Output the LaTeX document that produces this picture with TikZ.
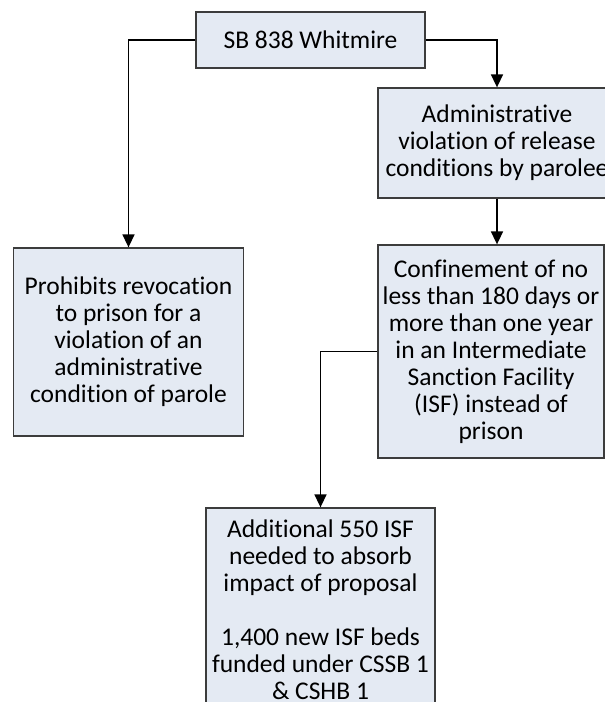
\documentclass[tikz,border=0pt]{standalone}
\usepackage{fontspec}
\setmainfont{Carlito}[Ligatures=NoCommon]
\usetikzlibrary{arrows.meta}
\definecolor{boxfill}{HTML}{E4EAF3}
\definecolor{boxline}{HTML}{3C3C3C}
\begin{document}
\begin{tikzpicture}[x=1pt,y=-1pt,
  box/.style={draw=boxline,fill=boxfill,line width=1.3pt,align=center,inner sep=0pt,
    font=\fontsize{25.5}{27}\selectfont},
  conn/.style={line width=1.6pt,-{Triangle[length=13pt,width=12pt]}}]
\useasboundingbox (0,0) rectangle (605,702);
\node[box,minimum width=229pt,minimum height=56pt] (top) at (310.5,40) {SB 838 Whitmire};
\node[box,minimum width=238pt,minimum height=110pt] (admin) at (497,143)
  {Administrative\\violation of release\\conditions by parolee};
\node[box,minimum width=226pt,minimum height=213pt] (conf) at (491,351.5)
  {Confinement of no\\less than 180 days or\\more than one year\\in an Intermediate\\Sanction Facility\\(ISF) instead of\\prison};
\node[box,minimum width=230pt,minimum height=188pt] (left) at (128.5,342)
  {Prohibits revocation\\to prison for a\\violation of an\\administrative\\condition of parole};
\node[box,minimum width=229pt,minimum height=204pt] (bottom) at (320.5,610)
  {Additional 550 ISF\\needed to absorb\\impact of proposal\\[27pt]1,400 new ISF beds\\funded under CSSB 1\\\& CSHB 1};
\draw[conn] (top.west) -| (left.north);
\draw[conn] (top.east) -| (admin.north);
\draw[conn] (admin.south) -- (admin.south |- conf.north);
\draw[conn] (conf.west) -| (bottom.north);
\end{tikzpicture}
\end{document}
